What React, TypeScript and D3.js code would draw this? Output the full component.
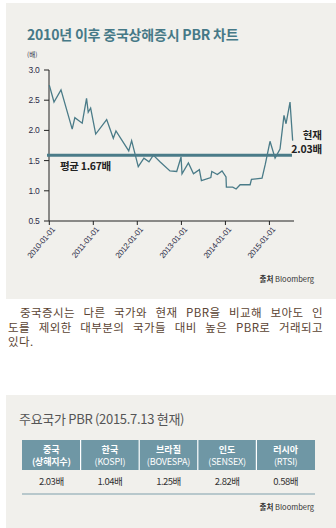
import React, { useLayoutEffect, useRef } from "react";
import * as d3 from "d3";

const dates = [
  "2010-01-01","2010-02-09","2010-04-08","2010-07-10","2010-08-01","2010-10-01","2010-11-06","2010-11-20","2010-12-10",
  "2011-01-21","2011-04-22","2011-06-16","2011-07-08","2011-10-22","2011-11-15",
  "2012-01-09","2012-02-25","2012-04-07","2012-05-13","2012-07-07","2012-09-28","2012-11-23","2012-12-29",
  "2013-01-06","2013-02-28","2013-04-11","2013-05-30","2013-06-16","2013-09-02","2013-09-10","2013-10-26","2013-12-04",
  "2014-01-06","2014-01-09","2014-03-03","2014-03-31","2014-05-03","2014-07-25","2014-08-05","2014-11-01","2014-11-28",
  "2015-01-06","2015-02-17","2015-03-30","2015-05-02","2015-05-19","2015-06-21","2015-07-13"
];
const pbr = [
  2.75,2.47,2.67,2.02,2.21,2.12,2.53,2.3,2.37,
  1.94,2.18,1.87,1.99,1.66,1.83,
  1.4,1.54,1.48,1.59,1.48,1.33,1.32,1.56,
  1.28,1.46,1.28,1.35,1.17,1.22,1.32,1.27,1.33,
  1.23,1.06,1.06,1.03,1.1,1.1,1.19,1.21,1.44,
  1.82,1.54,1.69,2.25,2.11,2.47,1.83
];
const yTicks = [0.5, 1.0, 1.5, 2.0, 2.5, 3.0];
const xTicks = ["2010-01-01","2011-01-01","2012-01-01","2013-01-01","2014-01-01","2015-01-01"];
const avgValue = 1.59;
const avgLabel = "평균 1.67배";
const currentLabel = ["현재", "2.03배"];

const countries = ["중국", "한국", "브라질", "인도", "러시아"];
const indices = ["(상해지수)", "(KOSPI)", "(BOVESPA)", "(SENSEX)", "(RTSI)"];
const values = ["2.03배", "1.04배", "1.25배", "2.82배", "0.58배"];

const paragraph = [
  "중국증시는 다른 국가와 현재 PBR을 비교해 보아도 인",
  "도를 제외한 대부분의 국가들 대비 높은 PBR로 거래되고",
  "있다.",
];

const parse = d3.timeParse("%Y-%m-%d");
const SANS = "'Liberation Sans', Arial, sans-serif";
const KR = "'Noto Sans CJK KR', 'Noto Sans', sans-serif";

export default function App() {
  const paraRefs = useRef<(SVGTextElement | null)[]>([]);
  const paraX = [20, 8, 8];
  const paraEnd = 323;

  useLayoutEffect(() => {
    paraRefs.current.forEach((el, i) => {
      if (!el || i > 1) return;
      el.setAttribute("word-spacing", "0");
      const len = el.getComputedTextLength();
      const spaces = (paragraph[i].match(/ /g) || []).length;
      const extra = (paraEnd - paraX[i] - len) / spaces;
      el.setAttribute("word-spacing", String(extra));
    });
  }, []);

  const x = d3.scaleTime().domain([parse("2010-01-01")!, parse("2015-07-24")!]).range([49.3, 294]);
  const y = d3.scaleLinear().domain([0.5, 3.0]).range([221, 70]);
  const line = d3.line<number>().x((_, i) => x(parse(dates[i])!)).y((d) => y(d));
  const pathD = line(pbr) || "";
  const axisColor = "#222";
  const tickText = "#2c2c48";
  const teal = "#4a7b88";

  const colX = d3.scaleBand().domain(countries).range([22, 315]);

  return (
    <svg width={336} height={528} style={{ position: "fixed", left: 0, top: 0, background: "#fff" }}>
      <rect x={6} y={3} width={330} height={296} fill="#f1f0ec" />
      <text x={27} y={40} fontFamily={KR} fontSize={14} fontWeight={700} fill="#467987" letterSpacing={-0.2}>
        2010년 이후 중국상해증시 PBR 차트
      </text>
      <text x={27} y={57} fontFamily={KR} fontSize={6.5} fill={tickText}>(배)</text>

      {/* y axis */}
      <line x1={49} x2={49} y1={y(3.0)} y2={y(0.5)} stroke={axisColor} strokeWidth={1} />
      {yTicks.map((t) => (
        <g key={t}>
          <line x1={44} x2={49} y1={y(t)} y2={y(t)} stroke={axisColor} strokeWidth={1} />
          <text x={39.5} y={y(t)} dy="0.35em" textAnchor="end" fontFamily={SANS} fontSize={8.5} fill={tickText} letterSpacing={-0.3}>
            {t.toFixed(1)}
          </text>
        </g>
      ))}
      {/* x axis */}
      <line x1={49} x2={294} y1={y(0.5)} y2={y(0.5)} stroke={axisColor} strokeWidth={1} />
      {xTicks.map((t) => {
        const px = x(parse(t)!);
        return (
          <g key={t}>
            <line x1={px} x2={px} y1={y(0.5)} y2={y(0.5) + 4} stroke={axisColor} strokeWidth={1} />
            <text
              transform={`translate(${px + 4},${y(0.5) + 7}) rotate(-50)`}
              textAnchor="end"
              dy="0.35em"
              fontFamily={SANS}
              fontSize={8}
              fill={tickText}
              letterSpacing={-0.3}
            >
              {t}
            </text>
          </g>
        );
      })}

      <path d={pathD} fill="none" stroke={teal} strokeWidth={1.3} strokeLinejoin="miter" />
      <line x1={47} x2={292} y1={y(avgValue)} y2={y(avgValue)} stroke={teal} strokeWidth={3} />
      <text x={60} y={y(avgValue) + 15} fontFamily={KR} fontSize={10.5} fontWeight={700} fill="#222" letterSpacing={-0.3}>
        {avgLabel}
      </text>
      <text x={322} y={139} textAnchor="end" fontFamily={KR} fontSize={10.5} fontWeight={700} fill="#222">
        {currentLabel[0]}
      </text>
      <text x={322} y={152.5} textAnchor="end" fontFamily={KR} fontSize={10.5} fontWeight={700} fill="#222" letterSpacing={-0.2}>
        {currentLabel[1]}
      </text>
      <text x={314} y={282} textAnchor="end" fontFamily={KR} fontSize={7.5} fill="#333">
        <tspan fontWeight={700}>출처</tspan> Bloomberg
      </text>

      {/* paragraph */}
      {paragraph.map((p, i) => (
        <text
          key={i}
          ref={(el) => {
            paraRefs.current[i] = el;
          }}
          x={paraX[i]}
          y={317 + i * 14.5}
          fontFamily={KR}
          fontSize={11.5}
          letterSpacing={0.4}
          fill="#5a4332"
        >
          {p}
        </text>
      ))}

      {/* bottom panel */}
      <rect x={6} y={395} width={330} height={133} fill="#f1f0ec" />
      <text x={19} y={424} fontFamily={KR} fontSize={13} fill="#555" letterSpacing={-0.3}>
        주요국가 PBR (2015.7.13 현재)
      </text>
      <rect x={22} y={440} width={293} height={30} fill="#6f97a5" />
      {countries.map((c, i) => {
        const cx = colX(c)! + colX.bandwidth() / 2;
        return (
          <g key={c}>
            {i > 0 && <line x1={colX(c)!} x2={colX(c)!} y1={440} y2={470} stroke="#fff" strokeWidth={1.2} />}
            <text x={cx} y={453} textAnchor="middle" fontFamily={KR} fontSize={9} fontWeight={700} fill="#fff">
              {c}
            </text>
            <text x={cx} y={465} textAnchor="middle" fontFamily={KR} fontSize={9} fontWeight={i === 0 ? 700 : 400} fill="#fff" letterSpacing={-0.2}>
              {indices[i]}
            </text>
            <text x={cx} y={485} textAnchor="middle" fontFamily={KR} fontSize={9.5} fill="#333" letterSpacing={-0.5}>
              {values[i]}
            </text>
          </g>
        );
      })}
      <line x1={22} x2={315} y1={494} y2={494} stroke="#7f9fab" strokeWidth={1} />
      <text x={314} y={510} textAnchor="end" fontFamily={KR} fontSize={7.5} fill="#333">
        <tspan fontWeight={700}>출처</tspan> Bloomberg
      </text>
    </svg>
  );
}
